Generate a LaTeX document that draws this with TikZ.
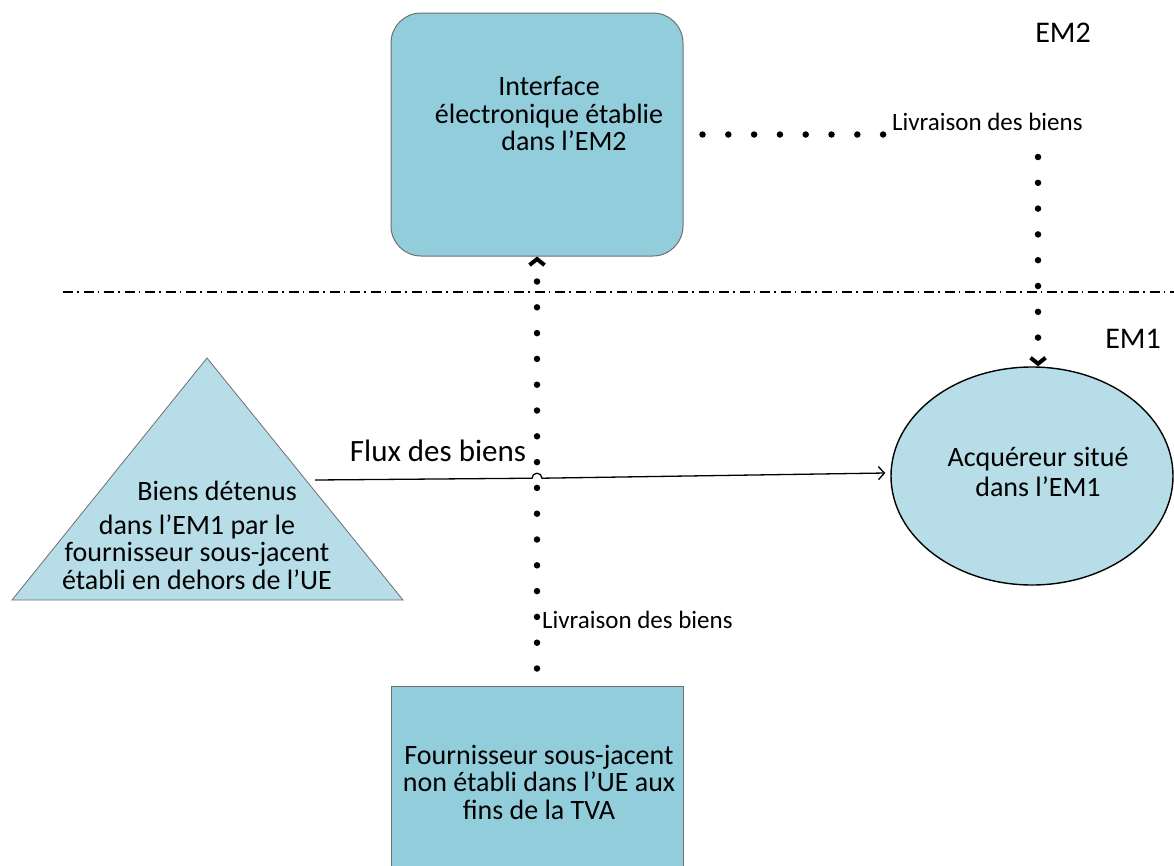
\documentclass[tikz,border=0pt]{standalone}
\usepackage{fontspec}
\setmainfont{Carlito}
\usetikzlibrary{arrows.meta,shapes.geometric}
\definecolor{boxblue}{HTML}{92CDDC}
\definecolor{lightblue}{HTML}{B7DDE8}
\definecolor{edgegray}{HTML}{6F6F6F}
\begin{document}
\begin{tikzpicture}[x=1pt,y=-1pt,
  bigtext/.style={align=center, inner sep=0pt, font=\fontsize{28}{27.5}\selectfont},
  smalltext/.style={inner sep=0pt, font=\fontsize{25}{26}\selectfont},
  boxnode/.style={draw=edgegray, line width=1pt, fill=boxblue, inner sep=0pt},
  dots/.style={line width=6.5pt, line cap=round, dash pattern=on 0pt off 25.8pt},
  dotarrow/.style={dots, -{Straight Barb[length=6pt,width=15pt,line width=4pt,line cap=butt]}},
  flow/.style={line width=1.3pt, -{Straight Barb[length=6pt,width=13pt,line width=1.3pt]}},
  border/.style={line width=2.6pt, dash pattern=on 10pt off 4pt on 1.5pt off 5pt}]
\useasboundingbox (0,0) rectangle (1174,865);
\clip (0,0) rectangle (1174,865);

% country labels and border
\node[inner sep=0pt, font=\fontsize{30}{30}\selectfont] (em2) at (1063,33) {EM2};
\node[inner sep=0pt, font=\fontsize{30}{30}\selectfont] (em1) at (1133,339) {EM1};
\coordinate (bleft) at (63,292);
\coordinate (bright) at (1174,292);
\draw[border] (bleft) -- (bright);

% electronic interface
\node[boxnode, rounded corners=30pt, minimum width=292pt, minimum height=243pt] (iface) at (537,134.5) {};
\node[bigtext] (ifacetext) at (549,114) {Interface\\électronique établie\\\hspace*{30pt}dans l’EM2};

% underlying supplier
\node[boxnode, minimum width=292pt, minimum height=200pt] (four) at (537,786) {};
\node[bigtext] (fourtext) at (539,782) {Fournisseur sous-jacent\\non établi dans l’UE aux\\fins de la TVA};

% acquirer
\node[ellipse, draw=black, line width=1.4pt, fill=lightblue, minimum width=282pt, minimum height=218pt, inner sep=0pt] (acq) at (1032,476) {};
\node[bigtext, font=\fontsize{28}{30}\selectfont] (acqtext) at (1038,472) {Acquéreur situé\\dans l’EM1};

% goods (triangle)
\coordinate (tapex) at (207,358);
\coordinate (tleft) at (12,600);
\coordinate (tright) at (403,600);
\draw[draw=edgegray, line width=0.8pt, fill=lightblue] (tleft) -- (tapex) -- (tright) -- cycle;
\node[bigtext] (biens1) at (217,491) {Biens détenus};
\node[bigtext] (biens2) at (197,552) {dans l’EM1 par le\\fournisseur sous-jacent\\établi en dehors de l’UE};

% flow of goods with hop over the dotted line
\coordinate (flowstart) at (315,480);
\coordinate (hopa) at (532,478.2);
\node[inner sep=0pt, font=\fontsize{31}{31}\selectfont] (fluxlabel) at (438,451) {Flux des biens};
\draw[flow] (flowstart) -- (hopa) arc[start angle=-180, end angle=0, radius=5] -- ([xshift=-5pt,yshift=3pt]acq.west);

% supply labels
\node[smalltext, anchor=west] (livtop) at (892,122) {Livraison des biens};
\node[smalltext, anchor=west] (livbot) at (542,620) {Livraison des biens};

% dotted connectors
\draw[dots] ([xshift=19pt]iface.east) -- ([xshift=-6pt]livtop.west |- iface.east);
\coordinate (rtop) at (1038,157);
\draw[dotarrow] (rtop) -- (rtop |- acq.north);
\draw[dotarrow] ([yshift=17pt]four.north) -- (iface.south);
\end{tikzpicture}
\end{document}
